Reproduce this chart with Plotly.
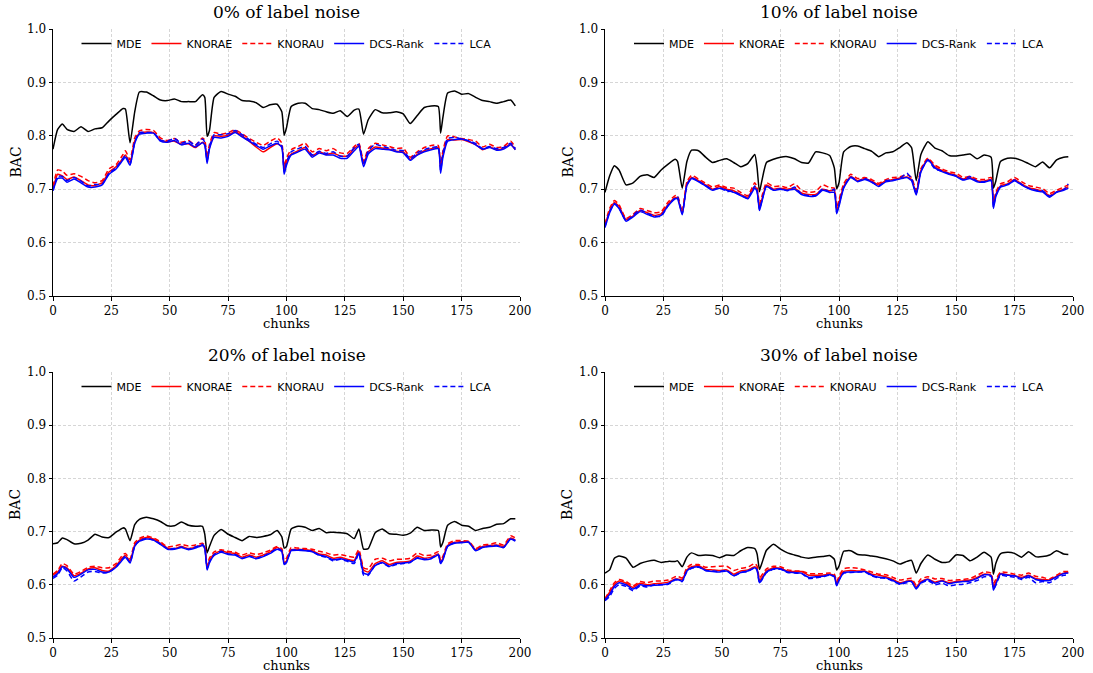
import plotly.graph_objects as go

# ---------------- data ----------------
X = [0, 2, 4, 6, 9, 12, 15, 18, 21, 24, 27, 30, 31, 33, 35, 37, 40, 43, 46, 49,
     52, 55, 58, 61, 64, 65, 66, 67, 69, 72, 75, 78, 81, 84, 87, 90, 93, 96, 98, 99,
     100, 102, 105, 108, 111, 114, 117, 120, 123, 126, 129, 131, 133, 135, 138, 141, 144, 147, 150, 153,
     156, 159, 162, 165, 166, 167, 169, 172, 175, 178, 181, 184, 187, 190, 193, 196, 198]

METHODS = ["MDE", "KNORAE", "KNORAU", "DCS-Rank", "LCA"]
TITLES = ["0% of label noise", "10% of label noise", "20% of label noise", "30% of label noise"]
X_LABEL = "chunks"
Y_LABEL = "BAC"
Y_TICKS = [0.5, 0.6, 0.7, 0.8, 0.9, 1.0]
X_TICKS = [0, 25, 50, 75, 100, 125, 150, 175, 200]

# 0% noise
MDE_0 = [.775, .812, .822, .812, .808, .817, .808, .813, .815, .828, .840, .851, .850, .787, .845, .882, .882, .875, .867, .866,
         .869, .864, .864, .864, .877, .872, .799, .810, .872, .883, .878, .874, .866, .865, .862, .853, .858, .859, .845, .801,
         .815, .855, .861, .861, .851, .849, .845, .842, .847, .836, .848, .850, .803, .830, .849, .843, .843, .845, .841, .823,
         .838, .853, .856, .855, .805, .835, .880, .884, .878, .879, .872, .866, .864, .861, .864, .867, .856]
KNORAE_0 = [.700, .728, .725, .718, .723, .716, .708, .707, .712, .732, .742, .758, .764, .750, .790, .805, .807, .806, .792, .789,
            .790, .784, .785, .778, .788, .785, .755, .778, .800, .799, .801, .808, .800, .790, .779, .770, .778, .785, .780, .737,
            .752, .766, .772, .778, .763, .770, .765, .768, .762, .762, .776, .782, .748, .770, .779, .777, .775, .771, .770, .756,
            .765, .772, .776, .778, .740, .765, .793, .792, .793, .789, .784, .774, .779, .774, .777, .784, .774]
KNORAU_0 = [.705, .736, .734, .726, .729, .724, .716, .712, .716, .738, .746, .765, .772, .755, .796, .809, .812, .810, .796, .791,
            .795, .788, .791, .783, .796, .792, .760, .784, .806, .803, .806, .811, .804, .795, .788, .782, .790, .796, .786, .742,
            .758, .774, .780, .786, .770, .776, .772, .776, .768, .767, .780, .786, .752, .776, .786, .783, .780, .776, .777, .760,
            .770, .778, .782, .782, .745, .772, .800, .798, .795, .793, .790, .779, .784, .778, .780, .790, .778]
DCS_0 = [.697, .720, .721, .713, .719, .712, .704, .704, .708, .728, .738, .755, .760, .745, .786, .803, .805, .805, .790, .788,
         .791, .783, .786, .779, .787, .782, .748, .775, .797, .796, .799, .806, .798, .790, .782, .775, .781, .786, .778, .728,
         .745, .764, .770, .775, .760, .768, .764, .764, .758, .758, .772, .780, .742, .766, .776, .775, .774, .770, .768, .754,
         .764, .770, .774, .776, .730, .760, .790, .793, .794, .790, .783, .775, .778, .773, .775, .783, .774]
LCA_0 = [.698, .724, .724, .716, .722, .715, .706, .709, .709, .730, .740, .758, .763, .747, .788, .806, .806, .806, .792, .790,
         .795, .786, .790, .782, .794, .788, .752, .780, .802, .802, .804, .810, .802, .793, .784, .778, .785, .790, .781, .732,
         .750, .770, .776, .780, .764, .771, .767, .770, .762, .762, .778, .784, .746, .772, .784, .780, .777, .773, .772, .757,
         .768, .774, .778, .779, .735, .768, .795, .797, .794, .791, .786, .776, .780, .776, .778, .786, .776]

# 10% noise
MDE_10 = [.694, .725, .744, .736, .708, .712, .724, .727, .722, .736, .747, .756, .752, .702, .752, .773, .772, .760, .750, .754,
          .757, .750, .742, .748, .765, .740, .695, .715, .750, .756, .760, .761, .757, .750, .749, .770, .768, .763, .740, .701,
          .712, .770, .780, .781, .776, .771, .761, .768, .770, .778, .787, .778, .716, .765, .789, .777, .772, .763, .762, .764,
          .766, .757, .764, .760, .702, .715, .752, .758, .758, .754, .748, .742, .751, .740, .755, .760, .761]
KNORAE_10 = [.632, .660, .675, .668, .643, .650, .660, .656, .651, .654, .672, .684, .684, .655, .710, .722, .716, .708, .700, .705,
             .700, .697, .690, .685, .705, .698, .666, .680, .708, .700, .702, .700, .702, .693, .690, .690, .700, .697, .698, .660,
             .675, .705, .724, .716, .720, .715, .708, .716, .718, .721, .723, .718, .693, .735, .756, .742, .735, .730, .726, .719,
             .722, .716, .715, .718, .670, .690, .706, .710, .718, .710, .703, .700, .696, .688, .695, .700, .705]
KNORAU_10 = [.635, .664, .679, .671, .645, .653, .664, .660, .656, .658, .676, .688, .688, .658, .714, .726, .719, .711, .704, .708,
             .703, .702, .694, .688, .712, .704, .672, .686, .712, .705, .706, .703, .710, .698, .694, .696, .708, .703, .702, .666,
             .680, .710, .728, .720, .722, .718, .711, .718, .722, .723, .727, .722, .698, .738, .758, .745, .738, .733, .730, .722,
             .724, .719, .718, .722, .675, .694, .710, .714, .722, .714, .707, .704, .701, .692, .698, .704, .708]
DCS_10 = [.628, .656, .672, .664, .640, .648, .658, .653, .648, .651, .669, .682, .682, .652, .707, .720, .714, .706, .698, .702,
          .698, .694, .688, .682, .702, .695, .660, .676, .705, .698, .700, .698, .700, .690, .687, .687, .698, .694, .694, .654,
          .668, .702, .722, .714, .718, .713, .705, .714, .716, .719, .722, .716, .689, .732, .755, .740, .733, .728, .724, .717,
          .720, .714, .713, .716, .664, .686, .704, .708, .716, .708, .701, .697, .695, .685, .694, .698, .702]
LCA_10 = [.630, .658, .673, .665, .641, .651, .661, .655, .650, .649, .670, .684, .686, .654, .708, .721, .715, .707, .699, .703,
          .696, .696, .689, .683, .706, .697, .662, .678, .706, .699, .701, .697, .704, .691, .688, .688, .701, .695, .700, .657,
          .671, .704, .723, .715, .720, .714, .706, .716, .717, .720, .730, .720, .692, .734, .754, .738, .734, .729, .725, .718,
          .724, .715, .714, .717, .667, .688, .705, .709, .717, .709, .702, .698, .697, .687, .695, .699, .710]

# 20% noise
MDE_20 = [.677, .679, .688, .685, .677, .678, .684, .695, .690, .689, .699, .707, .705, .683, .713, .723, .727, .724, .719, .711,
          .711, .718, .712, .710, .710, .695, .660, .672, .693, .704, .695, .689, .683, .691, .689, .691, .694, .702, .690, .669,
          .672, .705, .710, .708, .702, .706, .698, .699, .698, .696, .687, .705, .667, .668, .698, .705, .696, .695, .693, .697,
          .708, .702, .703, .702, .671, .680, .712, .719, .712, .710, .702, .706, .708, .714, .715, .724, .724]
KNORAE_20 = [.618, .624, .635, .632, .617, .622, .630, .632, .627, .626, .636, .652, .655, .645, .675, .684, .689, .686, .678, .669,
             .668, .672, .668, .671, .675, .670, .632, .645, .658, .664, .660, .659, .652, .656, .652, .656, .662, .670, .665, .642,
             .645, .666, .667, .666, .664, .658, .656, .650, .652, .648, .646, .662, .628, .624, .640, .645, .638, .642, .643, .645,
             .654, .650, .652, .658, .642, .650, .674, .680, .681, .681, .666, .672, .674, .675, .672, .688, .684]
KNORAU_20 = [.620, .627, .640, .636, .620, .625, .633, .635, .632, .632, .640, .657, .659, .649, .679, .687, .692, .688, .681, .671,
             .673, .676, .673, .675, .678, .674, .636, .650, .662, .666, .663, .661, .656, .660, .657, .660, .665, .672, .668, .646,
             .650, .670, .669, .668, .667, .663, .660, .656, .657, .654, .652, .666, .632, .630, .648, .650, .645, .648, .648, .650,
             .660, .655, .656, .662, .646, .654, .677, .683, .683, .682, .668, .675, .676, .679, .675, .692, .688]
DCS_20 = [.615, .621, .634, .630, .614, .620, .628, .629, .624, .624, .633, .648, .652, .641, .672, .682, .686, .684, .676, .667,
          .667, .670, .666, .669, .674, .668, .628, .641, .655, .661, .657, .656, .649, .653, .649, .653, .659, .667, .662, .638,
          .642, .664, .665, .664, .662, .656, .653, .647, .649, .646, .643, .660, .622, .620, .636, .642, .635, .640, .641, .643,
          .650, .647, .649, .656, .640, .647, .672, .678, .679, .680, .664, .670, .672, .673, .670, .686, .682]
LCA_20 = [.612, .618, .632, .626, .607, .615, .624, .625, .622, .624, .634, .650, .654, .642, .673, .683, .687, .684, .677, .668,
          .668, .671, .667, .671, .676, .670, .630, .643, .657, .663, .658, .657, .650, .654, .650, .654, .660, .668, .664, .640,
          .643, .665, .666, .665, .663, .655, .652, .645, .648, .644, .640, .659, .618, .618, .637, .641, .634, .638, .640, .642,
          .651, .648, .650, .657, .641, .649, .673, .679, .680, .680, .665, .671, .673, .674, .670, .687, .683]

# 30% noise
MDE_30 = [.622, .628, .650, .654, .650, .633, .640, .644, .646, .642, .644, .644, .645, .634, .652, .660, .655, .656, .655, .651,
          .656, .655, .664, .670, .668, .658, .629, .640, .665, .676, .667, .660, .656, .652, .650, .652, .653, .655, .648, .628,
          .635, .663, .664, .657, .656, .654, .652, .649, .645, .639, .644, .646, .622, .640, .656, .648, .642, .643, .656, .655,
          .645, .652, .661, .652, .620, .640, .658, .661, .659, .652, .662, .653, .653, .656, .664, .658, .657]
KNORAE_30 = [.573, .586, .600, .607, .603, .595, .603, .600, .602, .603, .605, .611, .611, .610, .628, .634, .636, .629, .628, .627,
             .628, .620, .626, .628, .634, .630, .608, .613, .626, .632, .631, .626, .625, .625, .618, .618, .618, .620, .618, .602,
             .612, .625, .627, .626, .626, .620, .618, .615, .610, .604, .607, .608, .596, .606, .611, .605, .608, .604, .606, .607,
             .609, .614, .620, .618, .596, .605, .621, .619, .617, .614, .618, .612, .610, .609, .616, .622, .623]
KNORAU_30 = [.574, .589, .604, .610, .606, .598, .606, .604, .607, .607, .609, .615, .616, .613, .632, .638, .638, .633, .634, .635,
             .635, .627, .631, .633, .640, .635, .612, .618, .630, .635, .634, .628, .626, .626, .621, .621, .621, .622, .620, .606,
             .616, .630, .632, .631, .628, .624, .620, .619, .614, .609, .611, .612, .600, .611, .615, .611, .612, .608, .609, .610,
             .612, .618, .624, .622, .602, .610, .624, .623, .620, .618, .622, .616, .614, .611, .618, .625, .625]
DCS_30 = [.572, .582, .597, .604, .600, .592, .600, .598, .599, .600, .602, .610, .610, .607, .626, .632, .634, .627, .625, .624,
          .626, .617, .623, .626, .632, .628, .604, .610, .624, .630, .630, .624, .623, .622, .614, .615, .616, .619, .615, .598,
          .608, .623, .624, .624, .625, .618, .614, .613, .608, .602, .606, .606, .592, .604, .610, .603, .607, .602, .605, .606,
          .607, .612, .619, .617, .590, .601, .620, .618, .617, .612, .617, .610, .608, .608, .615, .621, .622]
LCA_30 = [.570, .578, .593, .600, .597, .589, .598, .596, .600, .600, .601, .609, .609, .606, .625, .631, .633, .627, .626, .625,
          .627, .617, .623, .625, .632, .627, .603, .609, .623, .629, .629, .623, .622, .621, .612, .613, .615, .618, .616, .599,
          .609, .622, .623, .624, .624, .617, .613, .612, .607, .601, .604, .606, .594, .603, .608, .600, .603, .598, .600, .601,
          .604, .608, .615, .616, .592, .599, .618, .616, .614, .610, .614, .604, .606, .604, .612, .618, .619]

PANELS = [
    [MDE_0, KNORAE_0, KNORAU_0, DCS_0, LCA_0],
    [MDE_10, KNORAE_10, KNORAU_10, DCS_10, LCA_10],
    [MDE_20, KNORAE_20, KNORAU_20, DCS_20, LCA_20],
    [MDE_30, KNORAE_30, KNORAU_30, DCS_30, LCA_30],
]

# ---------------- style ----------------
COLORS = ["black", "#ff0000", "#ff0000", "#0000ff", "#0000ff"]
DASHES = ["solid", "solid", "5px,3px", "solid", "5px,3px"]

W, H = 1093, 673
X_DOM = [(53 / W, 520 / W), (605 / W, 1073 / W)]
Y_DOM = [(1 - 296 / H, 1 - 29 / H), (1 - 638 / H, 1 - 372 / H)]

SERIF = "DejaVu Serif, Liberation Serif, serif"
SANS = "DejaVu Sans, sans-serif"

fig = go.Figure()
layout = dict(
    width=W, height=H, margin=dict(l=0, r=0, t=0, b=0, autoexpand=False),
    paper_bgcolor="white", plot_bgcolor="white",
    font=dict(family=SERIF, color="black"),
    annotations=[],
)

for p in range(4):
    r, c = divmod(p, 2)
    ax = "" if p == 0 else str(p + 1)
    xa, ya = "x" + ax, "y" + ax
    leg = "legend" if p == 0 else "legend" + str(p + 1)
    for m, name in enumerate(METHODS):
        fig.add_trace(go.Scatter(
            x=X, y=PANELS[p][m], mode="lines", name=name,
            line=dict(color=COLORS[m], width=1.5, dash=DASHES[m], shape="spline", smoothing=0.5),
            xaxis=xa, yaxis=ya, legend=leg, showlegend=True,
        ))
    common = dict(
        showline=True, linecolor="black", linewidth=1,
        ticks="outside", ticklen=3.5, tickcolor="black",
        showgrid=True, gridcolor="#d6d6d6", griddash="3px,2px", gridwidth=0.8,
        zeroline=False, tickfont=dict(family=SERIF, size=12, color="black"),
        mirror=False, automargin=False,
    )
    layout["xaxis" + ax] = dict(
        common, domain=list(X_DOM[c]), anchor=ya, range=[0, 200], tickvals=X_TICKS,
    )
    layout["yaxis" + ax] = dict(
        common, domain=list(Y_DOM[r]), anchor=xa, range=[0.5, 1.0],
        tickvals=Y_TICKS, tickformat=".1f",
    )
    ybot, ytop = Y_DOM[r]
    xl, xr = X_DOM[c]
    xmid = (xl + xr) / 2
    ymid = (ybot + ytop) / 2
    layout[leg] = dict(
        orientation="h", x=xmid, xanchor="center", y=ytop, yanchor="top",
        bgcolor="rgba(0,0,0,0)", font=dict(family=SANS, size=11, color="black"),
        itemwidth=30, tracegroupgap=0,
    )
    layout["annotations"] += [
        dict(text=TITLES[p], x=xmid, y=ytop + 0.007, xref="paper", yref="paper",
             xanchor="center", yanchor="bottom", showarrow=False,
             font=dict(family=SERIF, size=17, color="black")),
        dict(text=X_LABEL, x=xmid, y=ybot - 27 / H, xref="paper", yref="paper",
             xanchor="center", yanchor="middle", showarrow=False,
             font=dict(family=SERIF, size=13, color="black")),
        dict(text=Y_LABEL, x=xl - 38 / W, y=ymid, xref="paper", yref="paper",
             xanchor="center", yanchor="middle", showarrow=False, textangle=-90,
             font=dict(family=SERIF, size=14, color="black")),
    ]

fig.update_layout(**layout)
fig.write_html("out.html")
